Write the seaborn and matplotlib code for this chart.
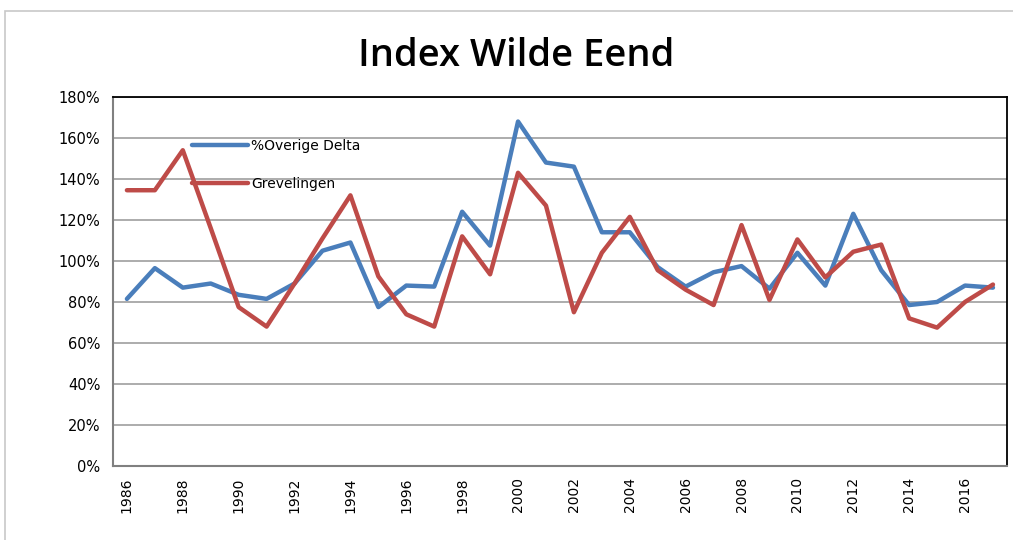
"""Index Wilde Eend: yearly index for Overige Delta vs Grevelingen."""

import matplotlib.pyplot as plt
import matplotlib.patches as mpatches
import pandas as pd
import seaborn as sns
from matplotlib.ticker import FixedLocator, FuncFormatter

# Data (percent)
years = list(range(1986, 2018))
overige_delta = [
    81.5, 96.5, 87, 89, 83.5, 81.5, 89, 105, 109, 77.5, 88, 87.5,
    124, 107.5, 168, 148, 146, 114, 114, 97, 87.5, 94.5, 97.5, 86.5,
    104, 88, 123, 95.5, 78.5, 80, 88, 87,
]
grevelingen = [
    134.5, 134.5, 154, 116, 77.5, 68, 89, 111, 132, 92.5, 74, 68,
    112, 93.5, 143, 127, 75, 104, 121.5, 95.5, 86, 78.5, 117.5, 81,
    110.5, 92, 104.5, 108, 72, 67.5, 80, 88.5,
]
series_names = ["%Overige Delta", "Grevelingen"]
colors = ["#4A7EBB", "#BE4B48"]

df = pd.DataFrame({
    "idx": list(range(len(years))) * 2,
    "value": overige_delta + grevelingen,
    "series": [series_names[0]] * len(years) + [series_names[1]] * len(years),
})

sns.set_style("white")
plt.rcParams["font.family"] = ["DejaVu Sans"]
plt.rcParams["text.color"] = "black"
plt.rcParams["xtick.labelcolor"] = "black"
plt.rcParams["ytick.labelcolor"] = "black"

fig = plt.figure(figsize=(10.13, 5.4), dpi=100)
ax = fig.add_axes([0.1115, 0.137, 0.8825, 0.6835])

# light chart border like the spreadsheet export
fig.patches.append(mpatches.Rectangle(
    (0.005, -0.05), 1.2, 1.03, transform=fig.transFigure,
    fill=False, edgecolor="#c8c8c8", linewidth=1.2,
))

sns.lineplot(
    data=df, x="idx", y="value", hue="series",
    palette=dict(zip(series_names, colors)),
    linewidth=3.2, ax=ax, legend=True,
)

ax.set_xlim(-0.5, len(years) - 0.5)
ax.set_ylim(0, 180)
ax.set_yticks(range(0, 181, 20))
ax.yaxis.set_major_formatter(FuncFormatter(lambda v, _: f"{v:.0f}%"))
ax.grid(axis="y", color="#a6a6a6", linewidth=1.3)
ax.set_axisbelow(True)

# labels on category centres, tick marks on category borders
label_pos = list(range(0, len(years), 2))
ax.set_xticks(label_pos)
ax.set_xticklabels([str(years[i]) for i in label_pos], rotation=90)
ax.xaxis.set_minor_locator(FixedLocator([i - 0.5 for i in range(len(years) + 1)]))
ax.tick_params(axis="x", which="major", length=0, pad=8, labelsize=10)
ax.tick_params(axis="x", which="minor", length=5, color="#808080", width=1)
ax.tick_params(axis="y", length=5, color="#808080", width=1, labelsize=10.5, pad=4)

ax.set_xlabel("")
ax.set_ylabel("")

for side in ["top", "right"]:
    ax.spines[side].set_color("black")
    ax.spines[side].set_linewidth(1.3)
for side in ["left", "bottom"]:
    ax.spines[side].set_color("#808080")
    ax.spines[side].set_linewidth(1.5)

ax.legend(
    loc="upper left", bbox_to_anchor=(0.075, 0.92), frameon=False,
    fontsize=10, handlelength=4.0, handletextpad=0.2, labelspacing=1.7,
)

fig.text(0.51, 0.897, "Index Wilde Eend", ha="center", va="center",
         fontsize=27.5, fontweight="semibold", family="Open Sans", color="black")

fig.savefig("out.png", dpi=100)
plt.close(fig)
